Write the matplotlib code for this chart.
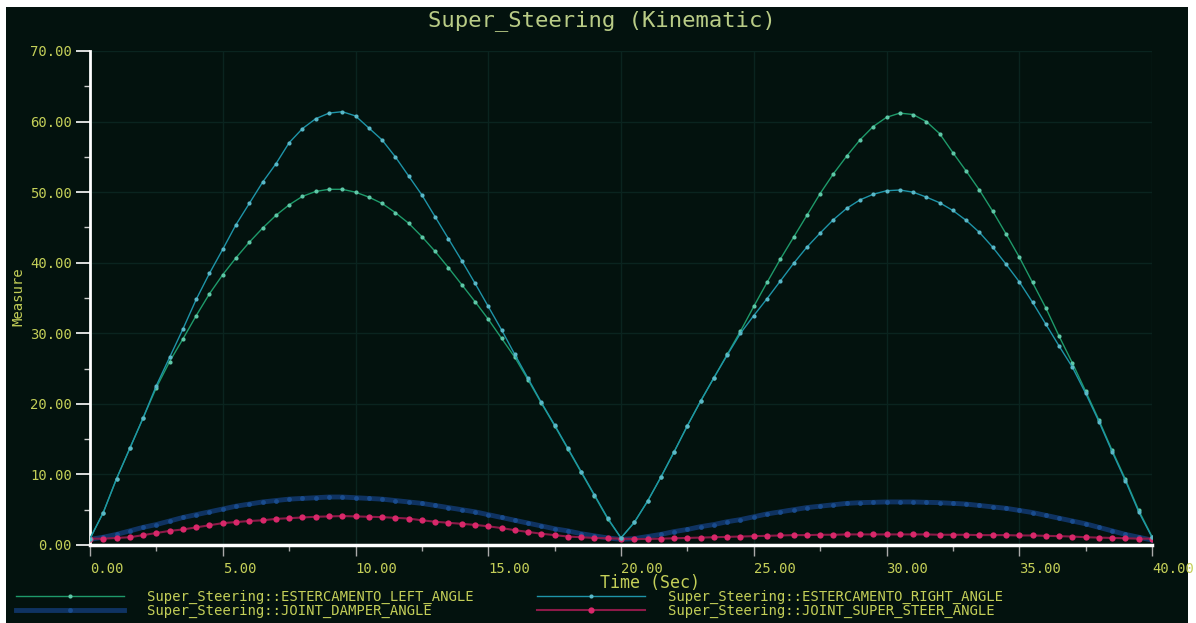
"""Super_Steering kinematic run: steering angles against time (ADAMS-style dark plot)."""

import matplotlib
matplotlib.use("Agg")
import matplotlib.pyplot as plt
from matplotlib.patches import Rectangle
from matplotlib.ticker import MultipleLocator, FormatStrFormatter
import numpy as np

# sample times, every 0.5 s from 0 to 40 s
TIME = np.arange(0, 40.5, 0.5)

LEFT_ANGLE = [
    0.9, 4.6, 9.4, 13.7, 18.0, 22.3, 26.0, 29.2, 32.5, 35.6,
    38.3, 40.7, 42.9, 44.9, 46.7, 48.2, 49.4, 50.1, 50.4, 50.4,
    50.0, 49.3, 48.4, 47.1, 45.6, 43.7, 41.6, 39.3, 36.9, 34.5,
    32.0, 29.3, 26.6, 23.4, 20.1, 16.9, 13.6, 10.3, 7.0, 3.7,
    1.0, 3.2, 6.2, 9.6, 13.2, 16.9, 20.4, 23.7, 27.0, 30.3,
    33.8, 37.2, 40.5, 43.6, 46.7, 49.8, 52.6, 55.1, 57.4, 59.3,
    60.6, 61.2, 61.0, 60.0, 58.3, 55.6, 53.0, 50.3, 47.3, 44.1,
    40.8, 37.2, 33.6, 29.6, 25.8, 21.8, 17.7, 13.4, 9.3, 4.9,
    1.2,
]
RIGHT_ANGLE = [
    0.9, 4.6, 9.4, 13.7, 18.0, 22.6, 26.6, 30.6, 34.8, 38.5,
    41.9, 45.4, 48.4, 51.4, 54.0, 57.0, 59.0, 60.4, 61.2, 61.4,
    60.8, 59.1, 57.4, 55.0, 52.3, 49.6, 46.5, 43.4, 40.3, 37.1,
    33.8, 30.5, 27.0, 23.6, 20.2, 17.0, 13.7, 10.4, 7.1, 3.8,
    1.0, 3.2, 6.2, 9.6, 13.2, 16.9, 20.4, 23.7, 26.9, 30.0,
    32.5, 34.9, 37.4, 39.9, 42.2, 44.2, 46.1, 47.7, 48.9, 49.7,
    50.2, 50.3, 50.0, 49.3, 48.5, 47.4, 46.0, 44.3, 42.2, 39.8,
    37.3, 34.4, 31.3, 28.2, 25.2, 21.5, 17.5, 13.2, 9.1, 4.7,
    1.1,
]
DAMPER_ANGLE = [
    0.8, 1.1, 1.5, 2.0, 2.5, 2.9, 3.4, 3.9, 4.3, 4.7,
    5.1, 5.5, 5.8, 6.1, 6.3, 6.5, 6.6, 6.7, 6.8, 6.8,
    6.7, 6.6, 6.5, 6.3, 6.1, 5.9, 5.6, 5.3, 5.0, 4.7,
    4.3, 3.9, 3.5, 3.1, 2.7, 2.3, 2.0, 1.6, 1.3, 1.0,
    0.8, 0.9, 1.2, 1.5, 1.9, 2.2, 2.6, 2.9, 3.3, 3.6,
    4.0, 4.4, 4.7, 5.0, 5.3, 5.5, 5.7, 5.9, 6.0, 6.05,
    6.1, 6.1, 6.1, 6.05, 6.0, 5.9, 5.8, 5.6, 5.4, 5.2,
    4.9, 4.6, 4.2, 3.8, 3.4, 3.0, 2.5, 2.0, 1.5, 1.1,
    0.7,
]
SUPER_STEER_ANGLE = [
    0.9, 0.9, 1.0, 1.1, 1.4, 1.7, 2.0, 2.2, 2.5, 2.8,
    3.1, 3.25, 3.4, 3.5, 3.7, 3.8, 3.9, 4.0, 4.05, 4.1,
    4.05, 4.0, 3.95, 3.85, 3.75, 3.5, 3.3, 3.15, 3.0, 2.85,
    2.65, 2.4, 2.1, 1.85, 1.6, 1.4, 1.2, 1.1, 1.0, 0.95,
    0.9, 0.85, 0.85, 0.9, 0.95, 1.0, 1.05, 1.1, 1.15, 1.2,
    1.25, 1.3, 1.35, 1.4, 1.4, 1.45, 1.45, 1.5, 1.5, 1.5,
    1.5, 1.5, 1.5, 1.5, 1.45, 1.45, 1.45, 1.4, 1.4, 1.4,
    1.35, 1.35, 1.3, 1.25, 1.2, 1.1, 1.05, 1.0, 0.95, 0.9,
    0.9,
]

LABELS = [
    "Super_Steering::ESTERCAMENTO_LEFT_ANGLE",
    "Super_Steering::ESTERCAMENTO_RIGHT_ANGLE",
    "Super_Steering::JOINT_DAMPER_ANGLE",
    "Super_Steering::JOINT_SUPER_STEER_ANGLE",
]

BG = "#03120e"
TXT = "#c4cf58"
MONO = "DejaVu Sans Mono"

W, H = 1196, 623
fig = plt.figure(figsize=(W / 100, H / 100), dpi=100, facecolor="white")
fig.patches.append(Rectangle((6 / W, 0), (1188 - 6) / W, 1 - 7 / H,
                             transform=fig.transFigure, facecolor=BG,
                             edgecolor="none", zorder=-10))

ax = fig.add_axes([90 / W, 1 - 545 / H, (1152 - 90) / W, (545 - 51) / H])
ax.set_facecolor(BG)

l_left, = ax.plot(TIME, LEFT_ANGLE, color="#1e9a6a", lw=1.0, marker="o", ms=3,
                  mfc="#5fc8a8", mec="none", label=LABELS[0], zorder=4)
l_right, = ax.plot(TIME, RIGHT_ANGLE, color="#1e94a8", lw=1.0, marker="o", ms=3,
                   mfc="#5ab8c8", mec="none", label=LABELS[1], zorder=4)
l_damp, = ax.plot(TIME, DAMPER_ANGLE, color="#123a72", lw=3.5, marker="o", ms=3.5,
                  mfc="#1b5196", mec="none", alpha=0.85, label=LABELS[2], zorder=3)
l_super, = ax.plot(TIME, SUPER_STEER_ANGLE, color="#8c1a48", lw=1.5, marker="o", ms=4.5,
                   mfc="#d8286a", mec="none", label=LABELS[3], zorder=3)

ax.set_xlim(0, 40)
ax.set_ylim(0, 70)
ax.xaxis.set_major_locator(MultipleLocator(5))
ax.xaxis.set_minor_locator(MultipleLocator(2.5))
ax.yaxis.set_major_locator(MultipleLocator(10))
ax.yaxis.set_minor_locator(MultipleLocator(5))
ax.xaxis.set_major_formatter(FormatStrFormatter("%.2f"))
ax.yaxis.set_major_formatter(FormatStrFormatter("%.2f"))

ax.grid(True, which="major", color="#0a241f", lw=1.0, zorder=1)
ax.set_axisbelow(True)
for side in ("top", "right"):
    ax.spines[side].set_visible(False)
ax.spines["left"].set_color("white")
ax.spines["left"].set_linewidth(2.0)
ax.spines["bottom"].set_color("white")
ax.spines["bottom"].set_linewidth(2.5)

ax.tick_params(axis="y", which="major", length=10, width=1.2, color="white",
               labelcolor=TXT, labelsize=10, pad=3)
ax.tick_params(axis="y", which="minor", length=4, width=1.0, color="#cfcfcf")
ax.tick_params(axis="x", which="major", length=8, width=1.0, color="#aaaaaa",
               labelcolor=TXT, labelsize=10, pad=4)
ax.tick_params(axis="x", which="minor", length=4, width=1.0, color="#aaaaaa")
for lbl in ax.get_xticklabels() + ax.get_yticklabels():
    lbl.set_fontfamily(MONO)
for lbl in ax.get_xticklabels():
    lbl.set_horizontalalignment("left")

fig.text(0.503, 1 - 21 / H, "Super_Steering (Kinematic)", ha="center", va="center",
         color="#b9cc86", fontsize=16, family=MONO)
fig.text(650 / W, 1 - 583 / H, "Time (Sec)", ha="center", va="center",
         color=TXT, fontsize=12, family=MONO)
fig.text(18 / W, 1 - 297 / H, "Measure", ha="center", va="center", rotation=90,
         color=TXT, fontsize=10, family=MONO)

leg = fig.legend(handles=[l_left, l_damp, l_right, l_super], ncol=2,
                 loc="upper left", bbox_to_anchor=(16 / W, 1 - 590 / H),
                 frameon=False, borderpad=0, borderaxespad=0, handlelength=7.8,
                 handletextpad=1.6, columnspacing=4.6, labelspacing=0.0,
                 numpoints=1, prop={"family": MONO, "size": 10})
for t in leg.get_texts():
    t.set_color(TXT)

fig.savefig("out.png", dpi=100, facecolor=fig.get_facecolor())
